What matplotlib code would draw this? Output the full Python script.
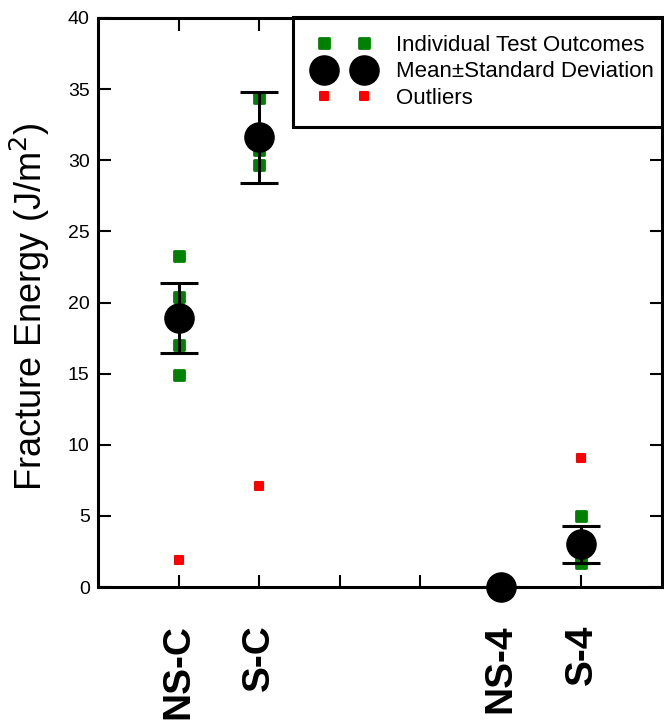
import matplotlib
matplotlib.use("Agg")

import matplotlib.pyplot as plt
from matplotlib.markers import MarkerStyle
from matplotlib.lines import Line2D
from matplotlib.legend_handler import HandlerLine2D

plt.rcParams["font.family"] = ["Liberation Sans", "DejaVu Sans"]

# data
positions = [1, 2, 5, 6]
labels = ["NS-C", "S-C", "NS-4", "S-4"]
individual = [
    [23.3, 20.4, 17.0, 14.9],   # NS-C
    [34.4, 30.7, 29.7],         # S-C
    [0.0, 0.0],                 # NS-4
    [5.0, 1.7],                 # S-4
]
means = [18.9, 31.6, 0.0, 3.0]
stds = [2.45, 3.2, 0.0, 1.3]
outlier_pos = [1, 2, 6]
outliers = [1.9, 7.1, 9.1]

green = "#008000"
red = "#ff0000"
sq = MarkerStyle("s", joinstyle="round")

fig = plt.figure(figsize=(6.64, 7.24), dpi=100)
ax = fig.add_axes([98 / 664, 1 - 587 / 724, 564 / 664, 569 / 724])

# individual test outcomes
for p, vals in zip(positions, individual):
    ax.plot([p] * len(vals), vals, linestyle="none", marker=sq, markersize=7,
            markerfacecolor=green, markeredgecolor=green, markeredgewidth=2,
            zorder=3, clip_on=False)

# outliers
ax.plot(outlier_pos, outliers, linestyle="none", marker=sq, markersize=5.5,
        markerfacecolor=red, markeredgecolor=red, markeredgewidth=1.5,
        zorder=3, clip_on=False)

# mean +- sd
ax.errorbar(positions, means, yerr=stds, fmt="none", ecolor="black",
            elinewidth=2.2, capsize=14, capthick=2.2, zorder=4)
ax.plot(positions, means, linestyle="none", marker="o", markersize=21,
        color="black", zorder=5, clip_on=False)

ax.set_xlim(0, 7)
ax.set_ylim(0, 40)
ax.set_yticks(range(0, 41, 5))
ax.set_xticks(range(1, 7))
tick_labels = [""] * 6
for p, lab in zip(positions, labels):
    tick_labels[p - 1] = lab
ax.set_xticklabels(tick_labels, rotation=90, fontsize=28, fontweight="bold",
                   va="top")
ax.tick_params(axis="x", direction="in", length=9, width=1.5, pad=27,
               top=True)
ax.tick_params(axis="y", direction="in", length=9, width=1.5, pad=6,
               labelsize=14, right=True)
for s in ax.spines.values():
    s.set_linewidth(2.2)

ax.set_ylabel("Fracture Energy (J/m$^2$)", fontsize=26)
ax.yaxis.set_label_coords(-0.082, 0.493)

handles = [
    Line2D([], [], linestyle="none", marker=sq, markersize=7,
           markerfacecolor=green, markeredgecolor=green, markeredgewidth=2),
    Line2D([], [], linestyle="none", marker="o", markersize=21, color="black"),
    Line2D([], [], linestyle="none", marker=sq, markersize=5.5,
           markerfacecolor=red, markeredgecolor=red, markeredgewidth=1.5),
]
leg = ax.legend(handles, ["Individual Test Outcomes", "Mean\u00b1Standard Deviation", "Outliers"],
                loc="upper left", bbox_to_anchor=(293 / 664, 1 - 17 / 724),
                bbox_transform=fig.transFigure,
                numpoints=2, fontsize=16, frameon=True, fancybox=False,
                edgecolor="black", framealpha=1, borderpad=0.8,
                labelspacing=0.25, handlelength=3.01, handletextpad=0.81,
                borderaxespad=0,
                handler_map={Line2D: HandlerLine2D(marker_pad=0.6)})
leg.get_frame().set_linewidth(2.2)
leg.set_zorder(2)  # ticks and spines draw on top of the legend box

fig.savefig("out.png", dpi=100)
